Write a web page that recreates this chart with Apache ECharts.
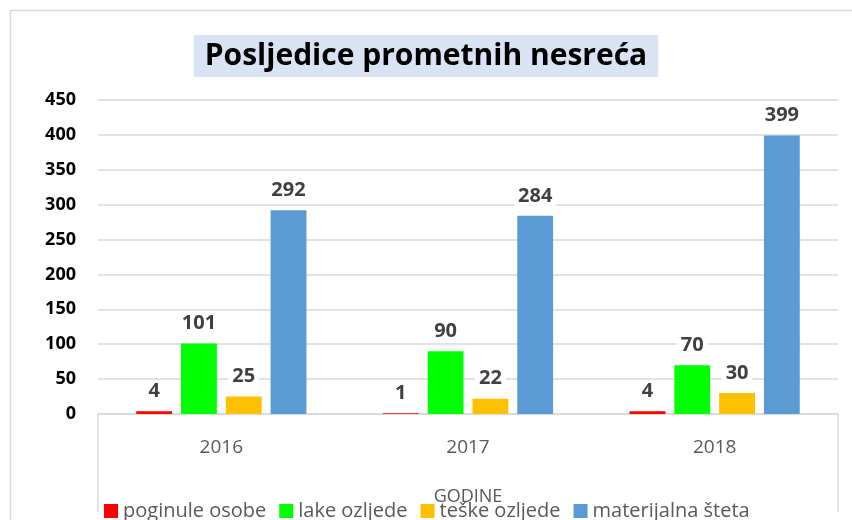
<!DOCTYPE html>
<html>
<head>
<meta charset="utf-8">
<script src="https://cdn.jsdelivr.net/npm/echarts@6/dist/echarts.min.js"></script>
<style>
  html, body { margin: 0; padding: 0; background: #ffffff; }
  #chart { width: 852px; height: 520px; }
</style>
</head>
<body>
<div id="chart"></div>
<script>
var years = ['2016', '2017', '2018']
var poginule = [4, 1, 4]
var lake = [101, 90, 70]
var teske = [25, 22, 30]
var materijalna = [292, 284, 399]
var yTicks = [0, 50, 100, 150, 200, 250, 300, 350, 400, 450]

var font = 'Open Sans'

function makeSeries (name, data, color) {
  return {
    name: name,
    type: 'bar',
    data: data,
    barGap: '25%',
    barCategoryGap: '31%',
    itemStyle: { color: color },
    label: {
      show: true,
      position: 'top',
      distance: 10,
      color: '#404040',
      fontFamily: font,
      fontWeight: 'bold',
      fontSize: 20,
      backgroundColor: '#ffffff',
      padding: [0, 4]
    }
  }
}

var myChart = echarts.init(document.getElementById('chart'))
myChart.setOption({
  animation: false,
  title: {
    text: 'Posljedice prometnih nesreća',
    left: 'center',
    top: 35,
    padding: [6, 11, 6, 11],
    backgroundColor: '#dae3f3',
    textStyle: {
      fontFamily: font,
      fontWeight: 'bold',
      fontSize: 30,
      color: '#000000'
    }
  },
  legend: {
    left: 99,
    top: 496,
    itemWidth: 14,
    itemHeight: 14,
    itemGap: 13,
    icon: 'rect',
    textStyle: { fontFamily: font, fontSize: 20, color: '#595959' },
    data: ['poginule osobe', 'lake ozljede', 'teške ozljede', 'materijalna šteta']
  },
  grid: { left: 98, right: 14, top: 100, bottom: 106 },
  xAxis: {
    type: 'category',
    data: years,
    name: 'GODINE',
    nameLocation: 'middle',
    nameGap: 74,
    nameTextStyle: { fontFamily: font, fontSize: 18, color: '#595959' },
    axisLine: { lineStyle: { color: '#d9d9d9', width: 1.5 } },
    axisTick: { show: false },
    axisLabel: { margin: 24, fontFamily: font, fontSize: 19, color: '#595959' }
  },
  yAxis: {
    type: 'value',
    min: yTicks[0],
    max: yTicks[yTicks.length - 1],
    interval: 50,
    axisLine: { show: false },
    axisTick: { show: false },
    splitLine: { lineStyle: { color: '#d9d9d9', width: 1.5 } },
    axisLabel: { margin: 22, fontFamily: font, fontWeight: 'bold', fontSize: 18, color: '#000000' }
  },
  graphic: [
    {
      type: 'rect',
      shape: { x: 10.5, y: 10.5, width: 900, height: 600 },
      style: { fill: 'none', stroke: '#d9d9d9', lineWidth: 1.5 },
      silent: true
    },
    {
      type: 'polyline',
      shape: { points: [[98, 414], [98, 512]] },
      style: { stroke: '#d9d9d9', lineWidth: 1.5 },
      silent: true
    },
    {
      type: 'polyline',
      shape: { points: [[838, 414], [838, 512]] },
      style: { stroke: '#d9d9d9', lineWidth: 1.5 },
      silent: true
    }
  ],
  series: [
    makeSeries('poginule osobe', poginule, '#ff0000'),
    makeSeries('lake ozljede', lake, '#00ff00'),
    makeSeries('teške ozljede', teske, '#ffc000'),
    makeSeries('materijalna šteta', materijalna, '#5b9bd5')
  ]
})
</script>
</body>
</html>
